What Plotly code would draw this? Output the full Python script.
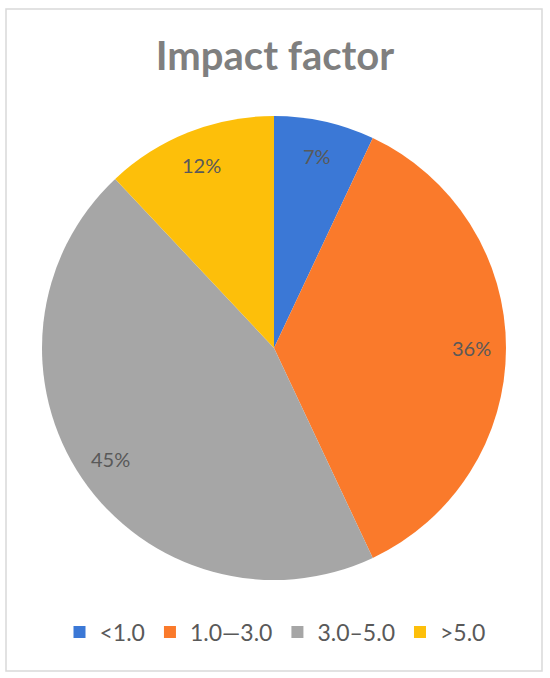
import math
import plotly.graph_objects as go

categories = ['<1.0', '1.0\u20143.0', '3.0\u20135.0', '>5.0']
values = [7, 36, 45, 12]
colors = ['#3b78d6', '#fa7a2b', '#a6a6a6', '#fdbf0a']

W, H = 550, 678
cx, cy, r = 274, 348, 232

fig = go.Figure(go.Pie(
    labels=categories,
    values=values,
    sort=False,
    direction='clockwise',
    rotation=0,
    marker=dict(colors=colors, line=dict(color='white', width=0)),
    textinfo='none',
    hoverinfo='label+percent',
    domain=dict(x=[(cx - r) / W, (cx + r) / W],
                y=[1 - (cy + r) / H, 1 - (cy - r) / H]),
))

# percentage labels near the rim of each slice
total = sum(values)
start = 0
annotations = []
for v in values:
    mid = (start + v / 2) / total * 2 * math.pi
    start += v
    rr = 0.85 * r
    annotations.append(dict(
        x=(cx + rr * math.sin(mid)) / W,
        y=1 - (cy - rr * math.cos(mid)) / H,
        xref='paper', yref='paper', showarrow=False,
        xanchor='center', yanchor='middle',
        text='%d%%' % round(v / total * 100),
        font=dict(size=20, color='#595959', family='Lato'),
    ))

fig.update_layout(
    width=W, height=H,
    margin=dict(l=0, r=0, t=0, b=0),
    paper_bgcolor='white',
    title=dict(text='<b>Impact factor</b>', x=0.5, xanchor='center',
               y=1 - 56 / H, yanchor='middle',
               font=dict(size=40, color='#7f7f7f', family='Lato')),
    legend=dict(orientation='h', x=0.5, xanchor='center',
                y=1 - 632 / H, yanchor='middle',
                font=dict(size=23, color='#595959', family='Lato'),
                itemwidth=30, traceorder='normal'),
    annotations=annotations,
    shapes=[dict(type='rect', xref='paper', yref='paper',
                 x0=6 / W, x1=542 / W, y0=1 - 671 / H, y1=1 - 9 / H,
                 line=dict(color='#d9d9d9', width=1.5))],
)

fig.write_html('out.html', config={'displayModeBar': False},
               post_script="document.body.style.margin='0';")
